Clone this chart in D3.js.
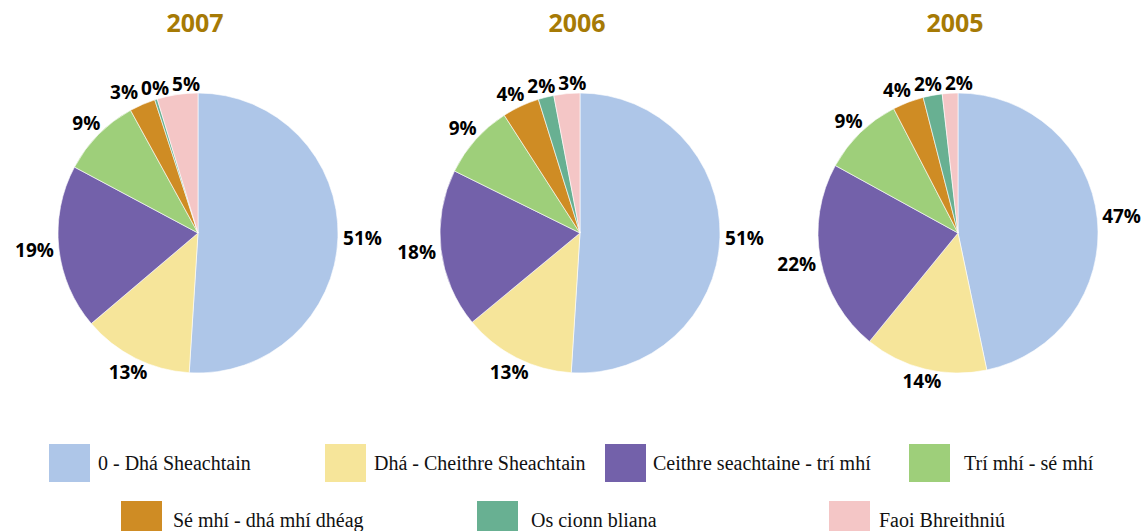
<!DOCTYPE html>
<html lang="ga">
<head>
  <meta charset="UTF-8" />
  <title>Pie charts 2005-2007</title>
  <script src="https://d3js.org/d3.v7.min.js"></script>
  <style>
    body {
      margin: 0;
      background: #fff;
    }
    .title {
      font-family: 'Open Sans', sans-serif;
      font-weight: bold;
      font-size: 25px;
      fill: #a67a05;
    }
    .pct {
      font-family: 'Open Sans', sans-serif;
      font-weight: bold;
      font-size: 19px;
      fill: #000;
    }
    .legend-text {
      font-family: 'Liberation Serif', 'Times New Roman', serif;
      font-size: 20px;
      fill: #111;
    }
  </style>
</head>
<body>
  <svg id="chart" width="1142" height="531"></svg>

  <script>
    // data (percent, slices clockwise from 12 o'clock)
    const years = ["2007", "2006", "2005"];
    const categories = [
      "0 - Dhá Sheachtain",
      "Dhá - Cheithre Sheachtain",
      "Ceithre seachtaine - trí mhí",
      "Trí mhí - sé mhí",
      "Sé mhí - dhá mhí dhéag",
      "Os cionn bliana",
      "Faoi Bhreithniú"
    ];
    const values2007 = [51.0, 12.8, 19.0, 9.2, 3.0, 0.3, 4.7];
    const values2006 = [51.0, 13.0, 18.3, 8.6, 4.3, 1.8, 3.0];
    const values2005 = [46.7, 14.2, 22.1, 9.4, 3.6, 2.2, 1.8];
    const seriesValues = [values2007, values2006, values2005];

    const colors = ["#aec6e8", "#f6e59a", "#7361aa", "#9ecf7a", "#cf8c24", "#68b092", "#f4c6c6"];

    // layout
    const pieCenters = [[198, 233], [580, 233], [958, 233]];
    const radius = 140;
    const labelRadius = 149;
    const legendSwatchX = [49, 325, 605, 909, 121, 477, 829];
    const legendTextX = [98, 374, 653, 964, 173, 531, 879];

    const svg = d3.select("#chart");
    const color = d3.scaleOrdinal().domain(categories).range(colors);
    const fmt = d3.format(".0%");

    const pie = d3.pie().sort(null).value(d => d.value);
    const arc = d3.arc().innerRadius(0).outerRadius(radius);

    years.forEach((year, i) => {
      const [cx, cy] = pieCenters[i];
      const vals = seriesValues[i];
      const total = d3.sum(vals);
      const data = categories.map((c, k) => ({ cat: c, value: vals[k] }));
      const g = svg.append("g").attr("transform", `translate(${cx},${cy})`);

      g.selectAll("path")
        .data(pie(data))
        .enter()
        .append("path")
        .attr("d", arc)
        .attr("fill", d => color(d.data.cat))
        .attr("stroke", "#fff")
        .attr("stroke-width", 0.6);

      // percent labels just outside each slice
      const labels = g.selectAll(".pct")
        .data(pie(data))
        .enter()
        .append("text")
        .attr("class", "pct")
        .attr("text-anchor", "middle")
        .attr("dy", "0.36em")
        .text(d => fmt(d.data.value / total));

      const boxes = [];
      labels.each(function(d) {
        const a = (d.startAngle + d.endAngle) / 2;
        const w = this.getComputedTextLength();
        const r = labelRadius + Math.abs(Math.sin(a)) * w / 2 * 0.8;
        boxes.push({ node: this, x: Math.sin(a) * r, y: -Math.cos(a) * r, w: w, h: 14 });
      });

      // push overlapping labels apart sideways
      for (let it = 0; it < 60; it++) {
        for (let p = 0; p < boxes.length; p++) {
          for (let q = p + 1; q < boxes.length; q++) {
            const A = boxes[p], B = boxes[q];
            const need = (A.w + B.w) / 2 + 3;
            const dx = B.x - A.x;
            if (Math.abs(dx) < need && Math.abs(B.y - A.y) < A.h) {
              const push = (need - Math.abs(dx)) / 2;
              const s = dx >= 0 ? 1 : -1;
              A.x -= s * push;
              B.x += s * push;
            }
          }
        }
      }
      boxes.forEach(b => d3.select(b.node).attr("x", b.x).attr("y", b.y));

      svg.append("text")
        .attr("class", "title")
        .attr("x", cx - 3)
        .attr("y", 32)
        .attr("text-anchor", "middle")
        .text(year);
    });

    // legend
    const legend = svg.selectAll(".legend")
      .data(categories)
      .enter()
      .append("g")
      .attr("class", "legend");

    legend.append("rect")
      .attr("x", (d, k) => legendSwatchX[k])
      .attr("y", (d, k) => k < 4 ? 444 : 501)
      .attr("width", 41)
      .attr("height", 38)
      .attr("fill", d => color(d));

    legend.append("text")
      .attr("class", "legend-text")
      .attr("x", (d, k) => legendTextX[k])
      .attr("y", (d, k) => k < 4 ? 470 : 527)
      .text(d => d);
  </script>
</body>
</html>
